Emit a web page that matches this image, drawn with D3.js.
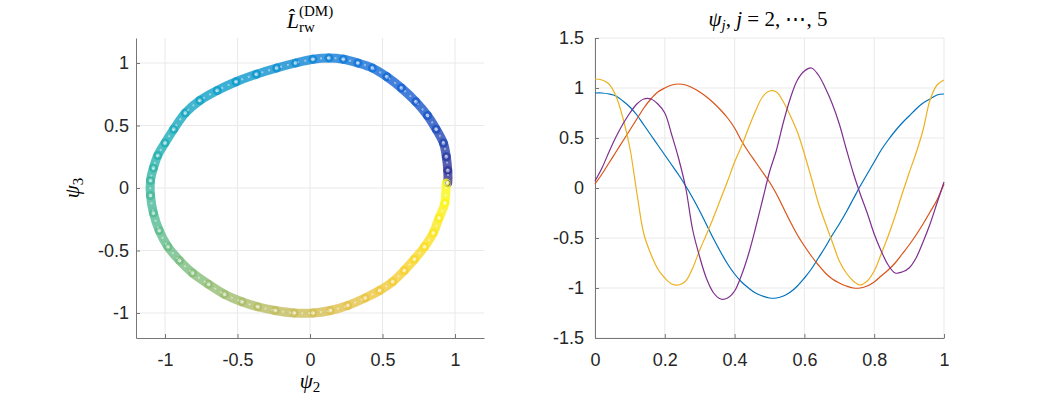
<!DOCTYPE html>
<html>
<head>
<meta charset="utf-8">
<script src="https://cdnjs.cloudflare.com/ajax/libs/d3/7.8.5/d3.min.js"></script>
<style>
  body { margin: 0; background: #fff; }
  svg { display: block; }
</style>
</head>
<body>
<div id="chart"></div>
<script>
// sample positions along [0, 1]
var xs = [0, 0.02, 0.04, 0.06, 0.08, 0.1, 0.12, 0.14, 0.16, 0.18, 0.2, 0.22, 0.24, 0.26, 0.28, 0.3, 0.32, 0.34, 0.36, 0.38, 0.4,
  0.42, 0.44, 0.46, 0.48, 0.5, 0.52, 0.54, 0.56, 0.58, 0.6, 0.62, 0.64, 0.66, 0.68, 0.7, 0.72, 0.74, 0.76, 0.78, 0.8,
  0.82, 0.84, 0.86, 0.88, 0.9, 0.92, 0.94, 0.96, 0.98, 1];

// eigenvectors psi_2 .. psi_5
var psi2 = [0.95, 0.95, 0.94, 0.92, 0.87, 0.81, 0.73, 0.63, 0.53, 0.43, 0.33, 0.23, 0.13, 0.02, -0.10, -0.23, -0.37, -0.51, -0.64, -0.76, -0.86,
  -0.94, -1.00, -1.05, -1.08, -1.10, -1.10, -1.08, -1.04, -0.98, -0.90, -0.81, -0.70, -0.59, -0.47, -0.36, -0.24, -0.11, 0.02, 0.14, 0.26,
  0.38, 0.48, 0.57, 0.65, 0.72, 0.79, 0.85, 0.89, 0.93, 0.94];
var psi3 = [0.04, 0.14, 0.25, 0.36, 0.47, 0.58, 0.69, 0.80, 0.89, 0.96, 1.00, 1.03, 1.04, 1.03, 1.00, 0.96, 0.91, 0.85, 0.78, 0.70, 0.60,
  0.47, 0.36, 0.26, 0.16, 0.06, -0.06, -0.20, -0.34, -0.47, -0.58, -0.68, -0.77, -0.85, -0.91, -0.95, -0.98, -1.00, -1.00, -0.98, -0.94,
  -0.88, -0.82, -0.75, -0.66, -0.57, -0.47, -0.36, -0.24, -0.12, 0.04];
var psi4 = [1.09, 1.08, 1.04, 0.92, 0.70, 0.40, -0.05, -0.46, -0.66, -0.81, -0.90, -0.96, -0.97, -0.93, -0.80, -0.62, -0.46, -0.29, -0.11, 0.07, 0.26,
  0.42, 0.60, 0.77, 0.91, 0.97, 0.96, 0.86, 0.72, 0.56, 0.34, 0.10, -0.15, -0.35, -0.54, -0.73, -0.85, -0.93, -0.97, -0.93, -0.83,
  -0.66, -0.48, -0.28, -0.06, 0.15, 0.35, 0.58, 0.88, 1.03, 1.08];
var psi5 = [0.07, 0.20, 0.36, 0.51, 0.64, 0.75, 0.84, 0.89, 0.89, 0.84, 0.75, 0.53, 0.29, 0.00, -0.42, -0.69, -0.91, -1.05, -1.11, -1.10, -1.03,
  -0.87, -0.66, -0.40, -0.12, 0.16, 0.38, 0.66, 0.90, 1.08, 1.17, 1.20, 1.13, 1.00, 0.84, 0.64, 0.39, 0.15, -0.06, -0.25, -0.46,
  -0.63, -0.77, -0.85, -0.84, -0.80, -0.70, -0.54, -0.36, -0.15, 0.06];

var leftTicks = [-1, -0.5, 0, 0.5, 1];
var rightXTicks = [0, 0.2, 0.4, 0.6, 0.8, 1];
var rightYTicks = [-1.5, -1, -0.5, 0, 0.5, 1, 1.5];

var lineColors = ["#0072bd", "#d95319", "#edb120", "#7e2f8e"];
var parula = ["#352a87", "#0f5cdd", "#1481d6", "#06a4ca", "#2eb7a4", "#87bf77", "#d1bb59", "#fec832", "#f9fb0e"];

var axisColor = "#777";
var gridColor = "#e9e9e9";
var fontSans = "'Liberation Sans', Arial, sans-serif";
var fontMath = "'Liberation Serif', 'DejaVu Serif', serif";

var svg = d3.select("#chart")
  .append("svg")
  .attr("width", 1043)
  .attr("height", 399);

function fmt(d) { return String(d); }

// grid + left/bottom axes, MATLAB-ish (ticks inward, box off)
function panel(x, y, xTicks, yTicks, yPad) {
  var g = svg.append("g");

  g.append("g").selectAll("line")
    .data(xTicks)
    .enter()
    .append("line")
    .attr("x1", function(d) { return x(d); })
    .attr("x2", function(d) { return x(d); })
    .attr("y1", y.range()[0])
    .attr("y2", y.range()[1])
    .attr("stroke", gridColor);

  g.append("g").selectAll("line")
    .data(yTicks)
    .enter()
    .append("line")
    .attr("x1", x.range()[0])
    .attr("x2", x.range()[1])
    .attr("y1", function(d) { return y(d); })
    .attr("y2", function(d) { return y(d); })
    .attr("stroke", gridColor);

  var ax = g.append("g")
    .attr("transform", "translate(0," + y.range()[0] + ")")
    .call(d3.axisBottom(x).tickValues(xTicks).tickFormat(fmt).tickSizeInner(-4).tickSizeOuter(0).tickPadding(15));
  var ay = g.append("g")
    .attr("transform", "translate(" + x.range()[0] + ",0)")
    .call(d3.axisLeft(y).tickValues(yTicks).tickFormat(fmt).tickSizeInner(-4).tickSizeOuter(0).tickPadding(yPad));

  [ax, ay].forEach(function(a) {
    a.select(".domain").attr("stroke", axisColor);
    a.selectAll(".tick line").attr("stroke", axisColor);
    a.selectAll("text")
      .attr("fill", "#262626")
      .style("font-family", fontSans)
      .style("font-size", "18px");
  });
  return g;
}

// ---------- left panel: psi2 vs psi3 ----------
var lx = d3.scaleLinear().domain([-1.2, 1.2]).range([136, 484]);
var ly = d3.scaleLinear().domain([-1.2, 1.2]).range([338, 38]);
var left = panel(lx, ly, leftTicks, leftTicks, 7);

var ringColor = d3.interpolateRgbBasis(parula);
var ring = xs.map(function(t, i) { return { t: t, px: lx(psi2[i]), py: ly(psi3[i]) }; });
var n = ring.length;

// smooth piece between sample i and i+1 (closed loop: last sample meets the first)
function piece(i) {
  var p0 = ring[i === 0 ? n - 2 : i - 1],
      p1 = ring[i],
      p2 = ring[i + 1],
      p3 = ring[i + 2 >= n ? 1 : i + 2];
  var c1x = p1.px + (p2.px - p0.px) / 6, c1y = p1.py + (p2.py - p0.py) / 6;
  var c2x = p2.px - (p3.px - p1.px) / 6, c2y = p2.py - (p3.py - p1.py) / 6;
  return "M" + p1.px + "," + p1.py + "C" + c1x + "," + c1y + " " + c2x + "," + c2y + " " + p2.px + "," + p2.py;
}
var pieces = d3.range(n - 1);

left.append("g").selectAll("path")
  .data(pieces)
  .enter()
  .append("path")
  .attr("d", piece)
  .attr("fill", "none")
  .attr("stroke", function(i) { return ringColor((ring[i].t + ring[i + 1].t) / 2); })
  .attr("stroke-width", 9)
  .attr("stroke-linecap", "round")
  .attr("stroke-opacity", 0.8);

// speckles of the open markers
left.append("g").selectAll("path")
  .data(pieces)
  .enter()
  .append("path")
  .attr("d", piece)
  .attr("fill", "none")
  .attr("stroke", "#fff")
  .attr("stroke-width", 2)
  .attr("stroke-dasharray", "2 5")
  .attr("stroke-opacity", 0.45);

left.append("g").selectAll("circle")
  .data(ring)
  .enter()
  .append("circle")
  .attr("cx", function(d) { return d.px; })
  .attr("cy", function(d) { return d.py; })
  .attr("r", 2.4)
  .attr("fill", "#fff")
  .attr("fill-opacity", 0.5)
  .attr("stroke", function(d) { return ringColor(d.t); })
  .attr("stroke-opacity", 0.8)
  .attr("stroke-width", 1);

// ---------- right panel: psi_j against x ----------
var rx = d3.scaleLinear().domain([0, 1]).range([595, 944]);
var ry = d3.scaleLinear().domain([-1.5, 1.5]).range([338, 38]);
var right = panel(rx, ry, rightXTicks, rightYTicks, 11);

var line = d3.line()
  .curve(d3.curveCatmullRom)
  .x(function(d) { return rx(d[0]); })
  .y(function(d) { return ry(d[1]); });

[psi2, psi3, psi4, psi5].forEach(function(vals, k) {
  right.append("path")
    .datum(xs.map(function(t, i) { return [t, vals[i]]; }))
    .attr("d", line)
    .attr("fill", "none")
    .attr("stroke", lineColors[k])
    .attr("stroke-width", 1.2);
});

// ---------- labels ----------
function mathText(x, y, size) {
  return svg.append("text")
    .attr("x", x)
    .attr("y", y)
    .attr("fill", "#000")
    .style("font-family", fontMath)
    .style("font-size", size + "px");
}

// left title  L-hat_rw^(DM)
var tL = mathText(0, 28, 22);
tL.append("tspan").style("font-style", "italic").text("L\u0302");
var wL = tL.node().getComputedTextLength();
var sup = mathText(0, 16, 15).text("(DM)");
var sub = mathText(0, 32, 15).text("rw");
var wS = Math.max(sup.node().getComputedTextLength(), sub.node().getComputedTextLength());
var x0 = 310 - (wL + wS) / 2;
tL.attr("x", x0);
sup.attr("x", x0 + wL);
sub.attr("x", x0 + wL);

// right title  psi_j, j = 2, ..., 5
var tR = mathText(768, 26, 21).attr("text-anchor", "middle");
tR.append("tspan").style("font-style", "italic").text("\u03c8");
tR.append("tspan").style("font-style", "italic").style("font-size", "15px").attr("dy", 4).text("j");
tR.append("tspan").attr("dy", -4).text(", ");
tR.append("tspan").style("font-style", "italic").text("j");
tR.append("tspan").text(" = 2, \u22ef, 5");

// axis labels
var xl = mathText(310, 388, 21).attr("text-anchor", "middle");
xl.append("tspan").style("font-style", "italic").text("\u03c8");
xl.append("tspan").style("font-size", "15px").attr("dy", 4).text("2");

var yl = mathText(0, 0, 21)
  .attr("text-anchor", "middle")
  .attr("transform", "translate(79,188) rotate(-90)");
yl.append("tspan").style("font-style", "italic").text("\u03c8");
yl.append("tspan").style("font-size", "15px").attr("dy", 4).text("3");
</script>
</body>
</html>
